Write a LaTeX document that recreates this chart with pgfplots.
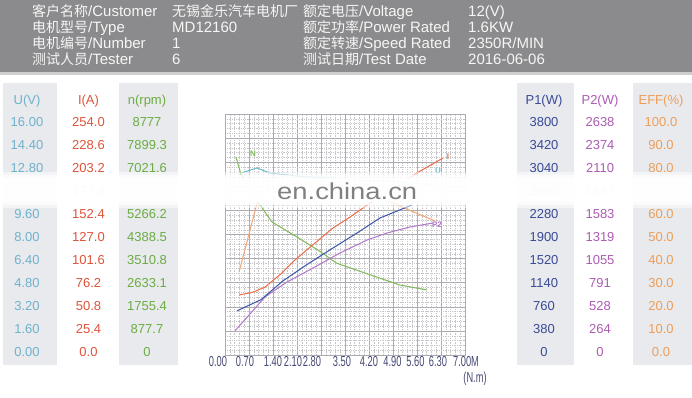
\documentclass[border=0pt]{standalone}
\usepackage{fontspec}
\usepackage{pgfplots}
\pgfplotsset{compat=1.18}
\setmainfont{Liberation Sans}
\newfontfamily\cjk{Noto Sans CJK SC}
\newfontfamily\narrowfont[FakeStretch=0.64]{Liberation Sans}
\definecolor{hdrgray}{RGB}{139,139,141}
\definecolor{hdrstrip}{RGB}{205,207,205}
\definecolor{hdrtext}{RGB}{246,246,246}
\definecolor{colbox}{RGB}{232,234,238}
\definecolor{cU}{RGB}{110,178,204}
\definecolor{cI}{RGB}{222,84,58}
\definecolor{cN}{RGB}{108,172,66}
\definecolor{cP1}{RGB}{58,74,150}
\definecolor{cP2}{RGB}{172,92,178}
\definecolor{cE}{RGB}{238,158,88}
\definecolor{lI}{RGB}{236,112,76}
\definecolor{lE}{RGB}{244,168,118}
\definecolor{lP1}{RGB}{62,88,170}
\definecolor{lP2}{RGB}{178,122,204}
\definecolor{lN}{RGB}{132,186,92}
\definecolor{lU}{RGB}{112,186,204}
\definecolor{gridmajor}{RGB}{172,172,176}
\definecolor{gridminor}{RGB}{198,198,202}
\definecolor{ticktext}{RGB}{70,74,118}
\definecolor{wm}{RGB}{128,128,128}
\begin{document}
\begin{tikzpicture}[x=1pt,y=1pt]
\path[use as bounding box, fill=white] (0,0) rectangle (692,-398);
% header
\fill[hdrgray] (0,0) rectangle (692,-72);
\fill[hdrstrip] (0,-72) rectangle (692,-75.5);
\begin{scope}[every node/.style={anchor=base west, inner sep=0pt, text=hdrtext, font=\fontsize{15}{18}\selectfont}]
\newcommand\C[1]{{\cjk\fontsize{14}{18}\selectfont #1}}
\node at (32,-16.4) {\C{客户名称}/Customer};
\node at (172,-16.4) {\C{无锡金乐汽车电机厂}};
\node at (303,-16.4) {\C{额定电压}/Voltage};
\node at (468,-16.4) {12(V)};
\node at (32,-32.4) {\C{电机型号}/Type};
\node at (172,-32.4) {MD12160};
\node at (303,-32.4) {\C{额定功率}/Power Rated};
\node at (468,-32.4) {1.6KW};
\node at (32,-48.4) {\C{电机编号}/Number};
\node at (172,-48.4) {1};
\node at (303,-48.4) {\C{额定转速}/Speed Rated};
\node at (468,-48.4) {2350R/MIN};
\node at (32,-64.4) {\C{测试人员}/Tester};
\node at (172,-64.4) {6};
\node at (303,-64.4) {\C{测试日期}/Test Date};
\node at (468,-64.4) {2016-06-06};
\end{scope}
% column boxes
\fill[colbox] (3,-83) rectangle (57,-365);
\fill[colbox] (119,-83) rectangle (178,-365);
\fill[colbox] (517,-83) rectangle (574,-365);
\fill[colbox] (633,-83) rectangle (692,-365);
\begin{scope}[every node/.style={anchor=base, inner sep=0pt, font=\fontsize{13}{15}\selectfont}]
\node[text=cU] at (27,-104.7) {U(V)};
\node[text=cI] at (88.5,-104.7) {I(A)};
\node[text=cN] at (147,-104.7) {n(rpm)};
\node[text=cP1] at (544,-104.7) {P1(W)};
\node[text=cP2] at (600,-104.7) {P2(W)};
\node[text=cE] at (661,-104.7) {EFF(\%)};
\foreach \v [count=\i from 0] in {16.00,14.40,12.80,11.20,9.60,8.00,6.40,4.80,3.20,1.60,0.00}
  \node[text=cU] at (27,-126.4-23*\i) {\v};
\foreach \v [count=\i from 0] in {254.0,228.6,203.2,177.8,152.4,127.0,101.6,76.2,50.8,25.4,0.0}
  \node[text=cI] at (88.5,-126.4-23*\i) {\v};
\foreach \v [count=\i from 0] in {8777,7899.3,7021.6,6144.1,5266.2,4388.5,3510.8,2633.1,1755.4,877.7,0}
  \node[text=cN] at (147,-126.4-23*\i) {\v};
\foreach \v [count=\i from 0] in {3800,3420,3040,2660,2280,1900,1520,1140,760,380,0}
  \node[text=cP1] at (544,-126.4-23*\i) {\v};
\foreach \v [count=\i from 0] in {2638,2374,2110,1847,1583,1319,1055,791,528,264,0}
  \node[text=cP2] at (600,-126.4-23*\i) {\v};
\foreach \v [count=\i from 0] in {100.0,90.0,80.0,70.0,60.0,50.0,40.0,30.0,20.0,10.0,0.0}
  \node[text=cE] at (661,-126.4-23*\i) {\v};
\end{scope}
% grid axis
\begin{axis}[at={(225pt,-355pt)}, anchor=south west, scale only axis,
  width=240pt, height=241pt, xmin=0, xmax=10, ymin=0, ymax=10,
  xtick={0,...,10}, ytick={0,...,10}, minor tick num=4, grid=both,
  major grid style={gridmajor, line width=0.5pt},
  minor grid style={gridminor, line width=0.3pt, dash pattern=on 0.9pt off 0.9pt},
  xticklabels={}, yticklabels={}, major tick length=0pt, minor tick length=0pt,
  axis line style={gridmajor, line width=0.5pt}]
\addplot[draw=none] coordinates {(0,0)};
\end{axis}
% data axis
\begin{axis}[at={(210pt,-355pt)}, anchor=south west, scale only axis,
  width=270pt, height=241pt, xmin=-0.4375, xmax=7.4375, ymin=-1.43, ymax=103.35,
  axis line style={draw=none}, ytick=\empty,
  xtick={-0.204,0.583,1.4,1.983,2.538,3.413,4.2,4.885,5.556,6.213,7.029},
  xticklabels={0.00,0.70,1.40,2.10,2.80,3.50,4.20,4.90,5.60,6.30,7.00M},
  major tick length=0pt,
  xticklabel style={font=\narrowfont\fontsize{14.5}{15}\selectfont, text=ticktext, inner sep=0pt, anchor=north, yshift=-1.5pt},
  clip=false, every axis plot/.append style={line width=1.05pt, no marks, line join=round}]
% U (V)
\addplot[lU] table[x=T, y expr=\thisrow{v}/0.16, row sep=\\] {
T v \\ 0.47 12.43 \\ 0.93 12.78 \\ 1.31 12.43 \\ 2.19 12.2 \\ 3.65 12.0 \\ 5.10 11.8 \\ 6.15 11.6 \\
};
% N (rpm)
\addplot[lN] table[x=T, y expr=\thisrow{v}/87.77, row sep=\\] {
T v \\ 0.32 7430 \\ 0.47 6743 \\ 0.96 5713 \\ 1.37 4950 \\ 2.10 4377 \\ 2.85 3760 \\ 3.25 3380 \\ 4.20 2950 \\ 5.10 2545 \\ 5.89 2358 \\
};
% EFF (%)
\addplot[lE] table[x=T, y=v, row sep=\\] {
T v \\ 0.41 34.7 \\ 0.96 66.0 \\ 1.31 71.2 \\ 2.19 73.3 \\ 3.35 72.5 \\ 4.23 69.0 \\ 5.10 63.3 \\ 6.13 56.8 \\
};
% P2 (W)
\addplot[lP2] table[x=T, y expr=\thisrow{v}/26.38, row sep=\\] {
T v \\ 0.29 240 \\ 0.70 420 \\ 1.17 630 \\ 1.81 800 \\ 2.57 960 \\ 3.35 1132 \\ 4.14 1281 \\ 4.73 1362 \\ 5.40 1431 \\ 6.07 1476 \\
};
% P1 (W)
\addplot[lP1] table[x=T, y expr=\thisrow{v}/38, row sep=\\] {
T v \\ 0.35 675 \\ 1.05 860 \\ 1.69 1170 \\ 2.39 1440 \\ 3.15 1714 \\ 3.85 1961 \\ 4.52 2209 \\ 5.45 2424 \\
};
% I (A)
\addplot[lI] table[x=T, y expr=\thisrow{v}/2.54, row sep=\\] {
T v \\ 0.41 62.6 \\ 0.80 65.5 \\ 1.17 71.4 \\ 1.65 86.6 \\ 2.04 101.3 \\ 2.53 117.0 \\ 3.15 136.6 \\ 3.65 148.8 \\ 4.23 164.2 \\ 4.96 180.7 \\ 5.60 197.4 \\ 6.36 213.9 \\
};
\end{axis}
\node[anchor=center, inner sep=0pt, text=ticktext, font=\narrowfont\fontsize{14.5}{15}\selectfont] at (475,-379) {(N.m)};
% curve labels
\node[text=lN, font=\bfseries\fontsize{8}{9}\selectfont, inner sep=0pt] at (253,-154) {N};
\node[text=lI, font=\bfseries\fontsize{8}{9}\selectfont, inner sep=0pt] at (448,-157) {I};
\node[text=lP2, font=\bfseries\fontsize{8}{9}\selectfont, inner sep=0pt] at (437,-225) {P2};
\node[text=lU, font=\bfseries\fontsize{8}{9}\selectfont, inner sep=0pt] at (438,-171) {U};
% watermark band
\fill[white, opacity=0.5] (0,-172) rectangle (692,-208);
\fill[white, opacity=0.7] (0,-175) rectangle (692,-205);
\fill[white, opacity=0.85] (0,-178) rectangle (692,-202);
\node[anchor=base west, inner sep=0pt, text=wm, font=\fontsize{23}{26}\selectfont] at (277,-199.3) {\scalebox{1.19}[1]{en.china.cn}};
\end{tikzpicture}
\end{document}
